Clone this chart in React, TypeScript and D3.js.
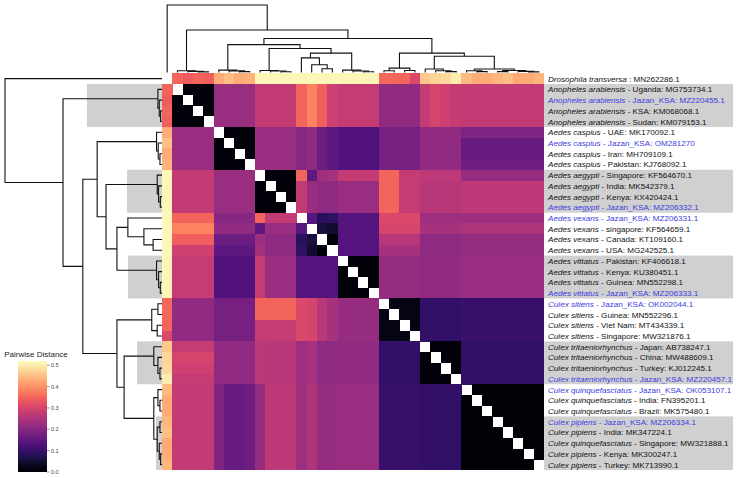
import React from "react";
import * as d3 from "d3";

// leaf order (rows top->bottom, columns left->right)
const species = [
  "Drosophila transversa",
  "Anopheles arabiensis", "Anopheles arabiensis", "Anopheles arabiensis", "Anopheles arabiensis",
  "Aedes caspius", "Aedes caspius", "Aedes caspius", "Aedes caspius",
  "Aedes aegypti", "Aedes aegypti", "Aedes aegypti", "Aedes aegypti",
  "Aedes vexans", "Aedes vexans", "Aedes vexans", "Aedes vexans",
  "Aedes vittatus", "Aedes vittatus", "Aedes vittatus", "Aedes vittatus",
  "Culex sitiens", "Culex sitiens", "Culex sitiens", "Culex sitiens",
  "Culex tritaeniorhynchus", "Culex tritaeniorhynchus", "Culex tritaeniorhynchus", "Culex tritaeniorhynchus",
  "Culex quinquefasciatus", "Culex quinquefasciatus", "Culex quinquefasciatus",
  "Culex pipiens", "Culex pipiens", "Culex quinquefasciatus", "Culex pipiens", "Culex pipiens",
];
const suffix = [
  " : MN262286.1",
  " - Uganda: MG753734.1", " - Jazan_KSA: MZ220455.1", " - KSA: KM068068.1", " - Sudan: KM079153.1",
  " - UAE: MK170092.1", " - Jazan_KSA: OM281270", " - Iran: MH709109.1", " - Pakistan: KJ768092.1",
  " - Singapore: KF564670.1", " - India: MK542379.1", " - Kenya: KX420424.1", " - Jazan_KSA: MZ206332.1",
  " - Jazan_KSA: MZ206331.1", " - singapore: KF564659.1", " - Canada: KT109160.1", " - USA: MG242525.1",
  " - Pakistan: KF406618.1", " - Kenya: KU380451.1", " - Guinea: MN552298.1", " - Jazan_KSA: MZ206333.1",
  " - Jazan_KSA: OK002044.1", " - Guinea: MN552296.1", " - Viet Nam: MT434339.1", " - Singapore: MW321876.1",
  " - Japan: AB738247.1", " - China: MW488609.1", " - Turkey: KJ012245.1", " - Jazan_KSA: MZ220457.1",
  " - Jazan_KSA: OK053107.1", " - India: FN395201.1", " - Brazil: MK575480.1",
  " - Jazan_KSA: MZ206334.1", " - India: MK347224.1", " - Singapore: MW321888.1", " - Kenya: MK300247.1", " - Turkey: MK713990.1",
];

// cluster membership of each leaf: 0 Dros, 1 Anoph, 2 caspius, 3 aegypti, 4 vexans, 5 vittatus, 6 sitiens, 7 tritaen., 8 quinq/pipiens
const leafGroup = [0, 1, 1, 1, 1, 2, 2, 2, 2, 3, 3, 3, 3, 4, 4, 4, 4, 5, 5, 5, 5, 6, 6, 6, 6, 7, 7, 7, 7, 8, 8, 8, 8, 8, 8, 8, 8];

// pairwise distance between clusters (diagonal = within cluster)
const groupDistance = [
  [0, 0.345, 0.44, 0.51, 0.51, 0.51, 0.355, 0.47, 0.435],
  [0.345, 0.01, 0.225, 0.275, 0.34, 0.28, 0.215, 0.285, 0.275],
  [0.44, 0.225, 0.01, 0.225, 0.17, 0.13, 0.18, 0.215, 0.165],
  [0.51, 0.275, 0.225, 0.01, 0.23, 0.225, 0.3, 0.26, 0.25],
  [0.51, 0.34, 0.17, 0.23, 0.06, 0.135, 0.26, 0.225, 0.235],
  [0.51, 0.28, 0.13, 0.225, 0.135, 0.01, 0.22, 0.215, 0.225],
  [0.355, 0.215, 0.18, 0.3, 0.26, 0.22, 0.02, 0.095, 0.1],
  [0.47, 0.285, 0.215, 0.26, 0.225, 0.215, 0.095, 0.01, 0.095],
  [0.435, 0.275, 0.165, 0.25, 0.235, 0.225, 0.1, 0.095, 0.008],
];

// Drosophila row against every leaf
const drosophilaRow = [
  0, 0.35, 0.34, 0.35, 0.345, 0.43, 0.45, 0.43, 0.435,
  0.51, 0.51, 0.51, 0.51, 0.51, 0.51, 0.51, 0.51, 0.51, 0.51, 0.51, 0.51,
  0.355, 0.355, 0.35, 0.31, 0.46, 0.475, 0.48, 0.5,
  0.445, 0.43, 0.43, 0.44, 0.45, 0.425, 0.43, 0.44,
];

// [row cluster, column cluster, value for each member of column cluster]
const groupProfiles: [number, number, number[]][] = [
  [1, 4, [0.35, 0.385, 0.345, 0.29]],
  [2, 4, [0.2, 0.215, 0.165, 0.15]],
  [3, 4, [0.275, 0.225, 0.21, 0.21]],
  [6, 4, [0.31, 0.3, 0.26, 0.24]],
  [7, 4, [0.23, 0.24, 0.21, 0.21]],
  [8, 4, [0.23, 0.25, 0.22, 0.22]],
  [3, 6, [0.35, 0.35, 0.28, 0.28]],
  [5, 3, [0.28, 0.225, 0.225, 0.225]],
  [7, 3, [0.27, 0.26, 0.26, 0.26]],
  [8, 3, [0.22, 0.27, 0.27, 0.27]],
  [1, 7, [0.28, 0.3, 0.29, 0.28]],
  [8, 2, [0.19, 0.16, 0.16, 0.17]],
];

// single cells [leaf, leaf, distance]
const cellValues: [number, number, number][] = [
  [9, 13, 0.35], [9, 14, 0.15], [9, 15, 0.23], [9, 16, 0.24],
  [13, 14, 0.14], [13, 15, 0.085], [13, 16, 0.09], [14, 15, 0.06], [14, 16, 0.045], [15, 16, 0.012],
];

// linkage tree: [height, left, right], leaves are row indices
type Node = number | [number, Node, Node];
const linkage: Node = [0.46, 0,
  [0.29,
    [0.012, 1, [0.008, 2, [0.004, 3, 4]]],
    [0.232,
      [0.19,
        [0.016, 5, [0.011, 6, [0.006, 7, 8]]],
        [0.164,
          [0.014, 9, [0.01, 10, [0.005, 11, 12]]],
          [0.132,
            [0.1, 13, [0.053, 14, [0.026, 15, 16]]],
            [0.016, 17, [0.01, 18, [0.005, 19, 20]]]]]],
      [0.132,
        [0.03, [0.012, 21, 22], [0.014, 23, 24]],
        [0.111,
          [0.024, 25, [0.012, 26, [0.006, 27, 28]]],
          [0.024, [0.012, 29, [0.006, 30, 31]],
            [0.014, [0.006, 32, 33], [0.008, 34, [0.004, 35, 36]]]]]]]]];

// shaded clades: [first leaf, last leaf, linkage depth]
const highlights: [number, number, number][] = [
  [1, 4, 0.22], [9, 12, 0.1025], [17, 20, 0.0996], [25, 28, 0.073], [32, 36, 0.0176],
];

const legendTicks = [0, 0.1, 0.2, 0.3, 0.4, 0.5];

const n = species.length;

function distance(i: number, j: number) {
  if (i === 0) return drosophilaRow[j];
  if (j === 0) return drosophilaRow[i];
  for (const [a, b, v] of cellValues) {
    if ((a === i && b === j) || (a === j && b === i)) return v;
  }
  const gi = leafGroup[i], gj = leafGroup[j];
  for (const [ga, gb, vals] of groupProfiles) {
    if (ga === gi && gb === gj) return vals[j - leafGroup.indexOf(gb)];
    if (ga === gj && gb === gi) return vals[i - leafGroup.indexOf(gb)];
  }
  return groupDistance[gi][gj];
}

type Seg = { p1: number; p2: number; h1: number; h2: number; h: number };
function walk(node: Node, pos: (i: number) => number, segs: Seg[]): { p: number; h: number } {
  if (typeof node === "number") return { p: pos(node), h: 0 };
  const [h, l, r] = node;
  const a = walk(l, pos, segs);
  const b = walk(r, pos, segs);
  segs.push({ p1: a.p, p2: b.p, h1: a.h, h2: b.h, h });
  return { p: (a.p + b.p) / 2, h };
}

const App = () => {
  const width = 736;
  const height = 478;
  const left = 162, right = 544, top = 73.3, bottom = 470;

  const leaves = d3.range(n);
  const x = d3.scaleBand<number>().domain(leaves).range([left, right]);
  const y = d3.scaleBand<number>().domain(leaves).range([top, bottom]);
  const color = d3.scaleSequential(d3.interpolateMagma).domain([0, 0.52]);
  const hLeft = d3.scaleLinear().domain([0, 0.46]).range([left, 5]);
  const hTop = d3.scaleLinear().domain([0, 0.46]).range([top - 0.8, 5]);

  const rowSegs: Seg[] = [];
  walk(linkage, (i) => y(i)! + y.bandwidth() / 2, rowSegs);
  const colSegs: Seg[] = [];
  walk(linkage, (i) => x(i)! + x.bandwidth() / 2, colSegs);

  const cells: { i: number; j: number; v: number }[] = [];
  for (let i = 0; i < n; i++)
    for (let j = 0; j < n; j++) if (i !== j) cells.push({ i, j, v: distance(i, j) });

  const cb = d3.scaleLinear().domain([0, 0.52]).range([472, 361]);
  const stops = d3.range(0, 1.0001, 0.05);

  return (
    <svg width={width} height={height} style={{ position: "absolute", left: 0, top: 0, background: "#fff" }}
      fontFamily="'Liberation Sans', Arial, sans-serif">
      <defs>
        <linearGradient id="magma" x1="0" y1="1" x2="0" y2="0">
          {stops.map((t) => <stop key={t} offset={t} stopColor={d3.interpolateMagma(t)} />)}
        </linearGradient>
      </defs>

      {highlights.map(([a, b, d]) => (
        <g key={a} fill="#d0d0d0">
          <rect x={hLeft(d)} y={y(a)} width={left - hLeft(d)} height={y(b)! + y.bandwidth() - y(a)!} />
          <rect x={right} y={y(a)} width={733 - right} height={y(b)! + y.bandwidth() - y(a)!} />
        </g>
      ))}

      <g shapeRendering="crispEdges">
        {cells.map((c) => (
          <rect key={c.i + "-" + c.j} x={x(c.j)} y={y(c.i)} width={x.bandwidth() + 0.3}
            height={y.bandwidth() + 0.3} fill={color(c.v)} />
        ))}
      </g>

      <g fill="none" stroke="#111" strokeWidth={1.1}>
        {rowSegs.map((s, k) => (
          <path key={"r" + k}
            d={`M${hLeft(s.h1)},${s.p1}H${hLeft(s.h)}V${s.p2}H${hLeft(s.h2)}`} />
        ))}
        {colSegs.map((s, k) => (
          <path key={"c" + k}
            d={`M${s.p1},${hTop(s.h1)}V${hTop(s.h)}H${s.p2}V${hTop(s.h2)}`} />
        ))}
      </g>

      <g fontSize={8.1}>
        {leaves.map((i) => (
          <text key={i} x={right + 4} y={y(i)! + y.bandwidth() / 2 + 3}
            fill={suffix[i].includes("Jazan") ? "#3c3ce0" : "#111"}>
            <tspan fontStyle="italic">{species[i]}</tspan>
            <tspan>{suffix[i]}</tspan>
          </text>
        ))}
      </g>

      <text x={36} y={357} fontSize={8} textAnchor="middle" fill="#222">Pairwise Distance</text>
      <rect x={18} y={cb(0.52)} width={29} height={cb(0) - cb(0.52)} fill="url(#magma)" />
      {legendTicks.map((t) => (
        <g key={t}>
          <line x1={47} x2={49.5} y1={cb(t)} y2={cb(t)} stroke="#444" strokeWidth={0.6} />
          <text x={51} y={cb(t) + 2} fontSize={5.5} fill="#444">{d3.format(".1f")(t)}</text>
        </g>
      ))}
    </svg>
  );
};

export default App;
